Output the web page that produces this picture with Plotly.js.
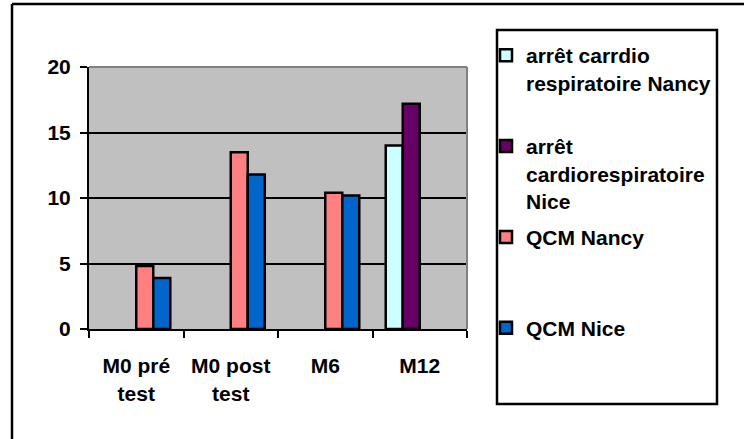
<!DOCTYPE html>
<html>
<head>
<meta charset="utf-8">
<script src="https://cdn.plot.ly/plotly-3.0.1.min.js"></script>
<style>
  body { margin: 0; background: #fff; }
  #graph { width: 744px; height: 439px; }
</style>
</head>
<body>
<div id="graph"></div>
<script>
// categories and series
const categories = ["M0 pré<br>test", "M0 post<br>test", "M6", "M12"];
const arretNancy = [null, null, null, 14.0];
const arretNice = [null, null, null, 17.2];
const qcmNancy = [4.8, 13.5, 10.4, null];
const qcmNice = [3.9, 11.8, 10.2, null];
const seriesNames = [
  "arrêt carrdio<br>respiratoire Nancy<br> ",
  "arrêt<br>cardiorespiratoire<br>Nice",
  "QCM Nancy<br> <br> ",
  "QCM Nice"
];
const seriesColors = ["#CCFFFF", "#660066", "#FF8080", "#0066CC"];

// plot area in pixels
const L = 89, R = 467, T = 67, B = 329;
const W = 744, H = 439;
function px(x) { return (x - L) / (R - L); }
function py(y) { return (B - y) / (B - T); }

const font = { family: "Liberation Sans, Arial, sans-serif", size: 21, color: "#000", weight: "bold" };

let data = [arretNancy, arretNice, qcmNancy, qcmNice].map(function (vals, i) {
  return {
    type: "bar",
    x: categories,
    y: vals,
    name: seriesNames[i],
    legendgroup: "g" + i,
    marker: { color: seriesColors[i], line: { color: "#000", width: 2.5 } },
    hoverinfo: "none"
  };
});

let layout = {
  width: W,
  height: H,
  margin: { l: L, r: W - R, t: T, b: H - B, pad: 0 },
  paper_bgcolor: "#fff",
  plot_bgcolor: "#C0C0C0",
  font: font,
  barmode: "group",
  bargap: 0.28,
  bargroupgap: 0,
  showlegend: true,
  legend: {
    x: px(486), y: py(35), xanchor: "left", yanchor: "top",
    bgcolor: "rgba(0,0,0,0)", borderwidth: 0, maxheight: 420,
    font: font, traceorder: "grouped", tracegroupgap: 6, valign: "top"
  },
  xaxis: {
    type: "category",
    showline: true, linecolor: "#000", linewidth: 2,
    ticks: "outside", tickson: "boundaries", ticklen: 7, tickwidth: 2, tickcolor: "#000",
    ticklabelstandoff: 17,
    showgrid: false, fixedrange: true, tickfont: font
  },
  yaxis: {
    range: [0, 20], dtick: 5, tick0: 0,
    showline: true, linecolor: "#000", linewidth: 2,
    ticks: "outside", ticklen: 7, tickwidth: 2, tickcolor: "#000",
    ticklabelstandoff: 5,
    showgrid: true, gridcolor: "#000", gridwidth: 2,
    zeroline: false, fixedrange: true, tickfont: font
  },
  shapes: [
    // plot area top and right edges
    { type: "line", xref: "paper", yref: "paper", x0: 0, x1: 1, y0: 1, y1: 1, line: { color: "#808080", width: 2 }, layer: "above" },
    { type: "line", xref: "paper", yref: "paper", x0: 1, x1: 1, y0: 0, y1: 1, line: { color: "#808080", width: 2 }, layer: "above" },
    // legend frame
    { type: "rect", xref: "paper", yref: "paper", x0: px(497), x1: px(717), y0: py(404), y1: py(30), line: { color: "#000", width: 2.5 } },
    // chart frame (top and left only)
    { type: "line", xref: "paper", yref: "paper", x0: px(12), x1: px(744), y0: py(4), y1: py(4), line: { color: "#000", width: 2.5 } },
    { type: "line", xref: "paper", yref: "paper", x0: px(12), x1: px(12), y0: py(4), y1: py(439), line: { color: "#000", width: 2.5 } }
  ]
};

Plotly.newPlot("graph", data, layout, { displayModeBar: false, staticPlot: true });
</script>
</body>
</html>
